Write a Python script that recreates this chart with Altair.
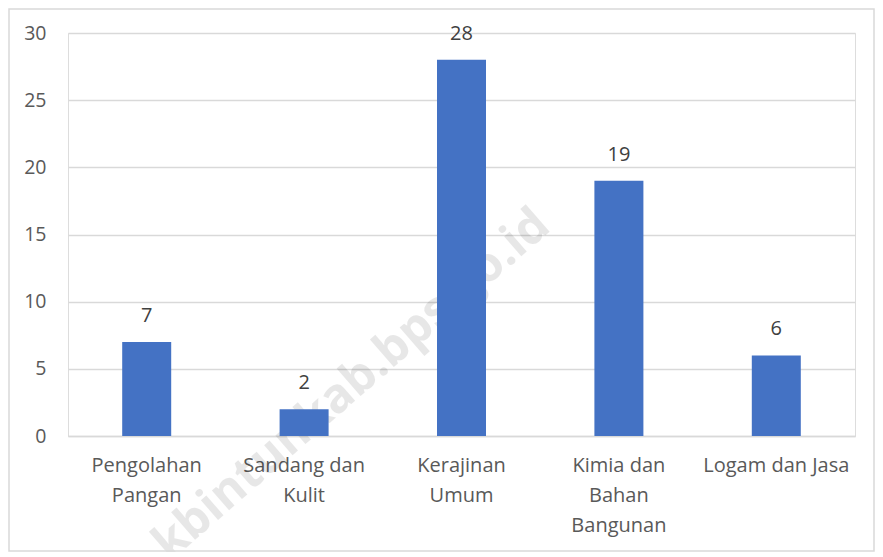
import altair as alt
import pandas as pd

categories = ["Pengolahan\nPangan", "Sandang dan\nKulit", "Kerajinan\nUmum",
              "Kimia dan\nBahan\nBangunan", "Logam dan Jasa"]
values = [7, 2, 28, 19, 6]
y_ticks = [0, 5, 10, 15, 20, 25, 30]
watermark = "kbintunkab.bps.go.id"

df = pd.DataFrame({"kategori": categories, "jumlah": values})

FONT = "Open Sans"
FS = 20
W, H = 787, 403

x_enc = alt.X("kategori:N", sort=categories, title=None,
              scale=alt.Scale(paddingInner=0, paddingOuter=0),
              axis=alt.Axis(labelAngle=0, labelExpr="split(datum.label, '\\n')",
                            labelFont=FONT, labelFontSize=FS, labelColor="#595959",
                            labelLineHeight=30, labelBaseline="top", labelPadding=19,
                            ticks=False, domain=True, domainColor="#d9d9d9",
                            domainWidth=1.5, grid=False, labelLimit=200))
y_enc = alt.Y("jumlah:Q", title=None,
              scale=alt.Scale(domain=[0, 30], nice=False),
              axis=alt.Axis(values=y_ticks, labelFont=FONT, labelFontSize=FS - 0.5,
                            labelColor="#595959", labelPadding=22, ticks=False,
                            domain=False, gridColor="#d9d9d9", gridWidth=1.5))

bars = alt.Chart(df).mark_bar(size=49, color="#4472C4").encode(x=x_enc, y=y_enc)

labels = alt.Chart(df).mark_text(dy=-16, font=FONT, fontSize=FS, color="#404040",
                                 baseline="bottom").encode(
    x=alt.X("kategori:N", sort=categories), y="jumlah:Q", text="jumlah:Q")

wm = alt.Chart(pd.DataFrame({"t": [watermark]})).mark_text(
    font=FONT, fontSize=48, fontWeight="bold", angle=319, color="#000000",
    opacity=0.09, align="center", baseline="middle").encode(
    x=alt.value(284), y=alt.value(352), text="t:N")

border = alt.Chart(pd.DataFrame({"a": [0]})).mark_rect(
    fill=None, stroke="#d9d9d9", strokeWidth=1.5).encode(
    x=alt.value(-59), x2=alt.value(W + 19), y=alt.value(-24), y2=alt.value(H + 115))

chart = alt.layer(wm, bars, labels, border).properties(
    width=W, height=H,
    autosize=alt.AutoSizeParams(type="none"),
    padding={"left": 60, "top": 25, "right": 20, "bottom": 116},
).configure_view(stroke=None).configure(background="white")

chart.save("out.html", embed_options={"renderer": "svg", "actions": False})
